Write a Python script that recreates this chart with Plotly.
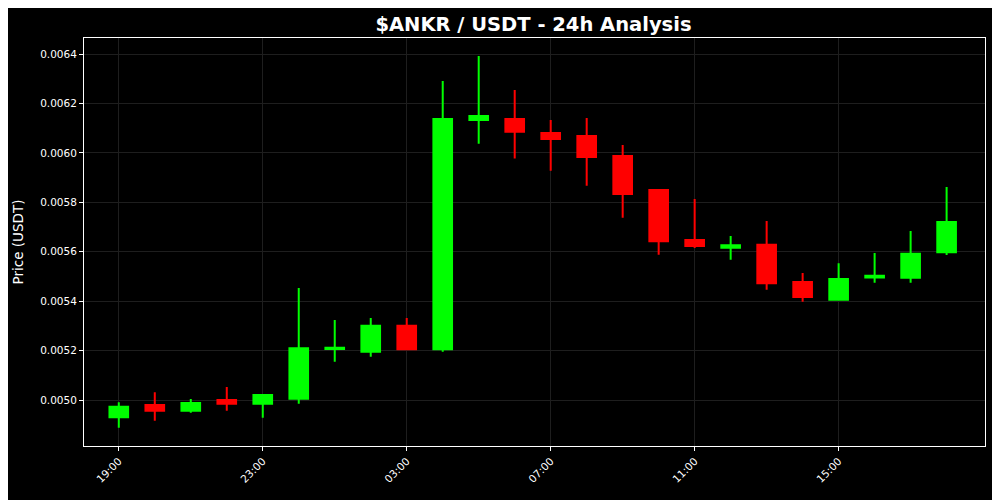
import plotly.graph_objects as go

times = [
    "2024-01-01 19:00", "2024-01-01 20:00", "2024-01-01 21:00", "2024-01-01 22:00",
    "2024-01-01 23:00", "2024-01-02 00:00", "2024-01-02 01:00", "2024-01-02 02:00",
    "2024-01-02 03:00", "2024-01-02 04:00", "2024-01-02 05:00", "2024-01-02 06:00",
    "2024-01-02 07:00", "2024-01-02 08:00", "2024-01-02 09:00", "2024-01-02 10:00",
    "2024-01-02 11:00", "2024-01-02 12:00", "2024-01-02 13:00", "2024-01-02 14:00",
    "2024-01-02 15:00", "2024-01-02 16:00", "2024-01-02 17:00", "2024-01-02 18:00",
]
opens = [0.004930, 0.004980, 0.004957, 0.005000, 0.004985, 0.005005, 0.005207, 0.005195,
         0.005301, 0.005206, 0.006133, 0.006137, 0.006081, 0.006068, 0.005987, 0.005850,
         0.005648, 0.005616, 0.005628, 0.005478, 0.005406, 0.005496, 0.005495, 0.005598]
highs = [0.004991, 0.005032, 0.005004, 0.005053, 0.005024, 0.005453, 0.005324, 0.005332,
         0.005332, 0.006291, 0.006392, 0.006255, 0.006133, 0.006141, 0.006032, 0.005854,
         0.005813, 0.005664, 0.005724, 0.005514, 0.005554, 0.005595, 0.005684, 0.005862]
lows = [0.004888, 0.004916, 0.004949, 0.004957, 0.004928, 0.004985, 0.005155, 0.005175,
        0.005206, 0.005195, 0.006037, 0.005977, 0.005928, 0.005867, 0.005738, 0.005588,
        0.005615, 0.005568, 0.005446, 0.005398, 0.005406, 0.005475, 0.005475, 0.005587]
closes = [0.004973, 0.004957, 0.004988, 0.004985, 0.005020, 0.005210, 0.005212, 0.005301,
          0.005206, 0.006137, 0.006149, 0.006086, 0.006056, 0.005983, 0.005834, 0.005643,
          0.005623, 0.005626, 0.005473, 0.005417, 0.005490, 0.005503, 0.005592, 0.005720]

title_text = "$ANKR / USDT - 24h Analysis"
y_label = "Price (USDT)"
tick_times = ["2024-01-01 19:00", "2024-01-01 23:00", "2024-01-02 03:00",
              "2024-01-02 07:00", "2024-01-02 11:00", "2024-01-02 15:00"]
tick_labels = ["19:00", "23:00", "03:00", "07:00", "11:00", "15:00"]

UP = "#00ff00"
DOWN = "#ff0000"
GRID = "#1e1e1e"

fig = go.Figure(go.Candlestick(
    x=times, open=opens, high=highs, low=lows, close=closes,
    increasing=dict(line=dict(color=UP, width=2), fillcolor=UP),
    decreasing=dict(line=dict(color=DOWN, width=2), fillcolor=DOWN),
    whiskerwidth=0,
    showlegend=False,
))

# The page body has an 8px margin, so the figure is 992x492 placed at (8, 8).
fig.update_layout(
    width=992, height=492,
    paper_bgcolor="black", plot_bgcolor="black",
    margin=dict(l=76, r=15, t=30, b=54, autoexpand=False),
    boxgap=0.26,
    font=dict(family="DejaVu Sans", color="white", size=11),
    title=dict(text="<b>" + title_text + "</b>", x=0.5297, xanchor="center",
               y=0.968, yanchor="middle", font=dict(size=19.5, color="white")),
    xaxis=dict(
        rangeslider=dict(visible=False),
        type="date",
        range=["2024-01-01 18:02", "2024-01-02 19:04"],
        tickvals=tick_times, ticktext=tick_labels, tickangle=-45,
        tickfont=dict(size=10.5),
        showgrid=True, gridcolor=GRID, gridwidth=1,
        showline=True, linecolor="white", linewidth=1, mirror=True,
        ticks="outside", ticklen=4, tickcolor="white",
        zeroline=False,
    ),
    yaxis=dict(
        title=dict(text=y_label, font=dict(size=13.5), standoff=13),
        range=[0.004814, 0.006465],
        tickvals=[0.0050, 0.0052, 0.0054, 0.0056, 0.0058, 0.0060, 0.0062, 0.0064],
        tickformat=".4f",
        tickfont=dict(size=10.5),
        showgrid=True, gridcolor=GRID, gridwidth=1,
        showline=True, linecolor="white", linewidth=1, mirror=True,
        ticks="outside", ticklen=4, tickcolor="white",
        zeroline=False,
    ),
)

fig.write_html("out.html")
